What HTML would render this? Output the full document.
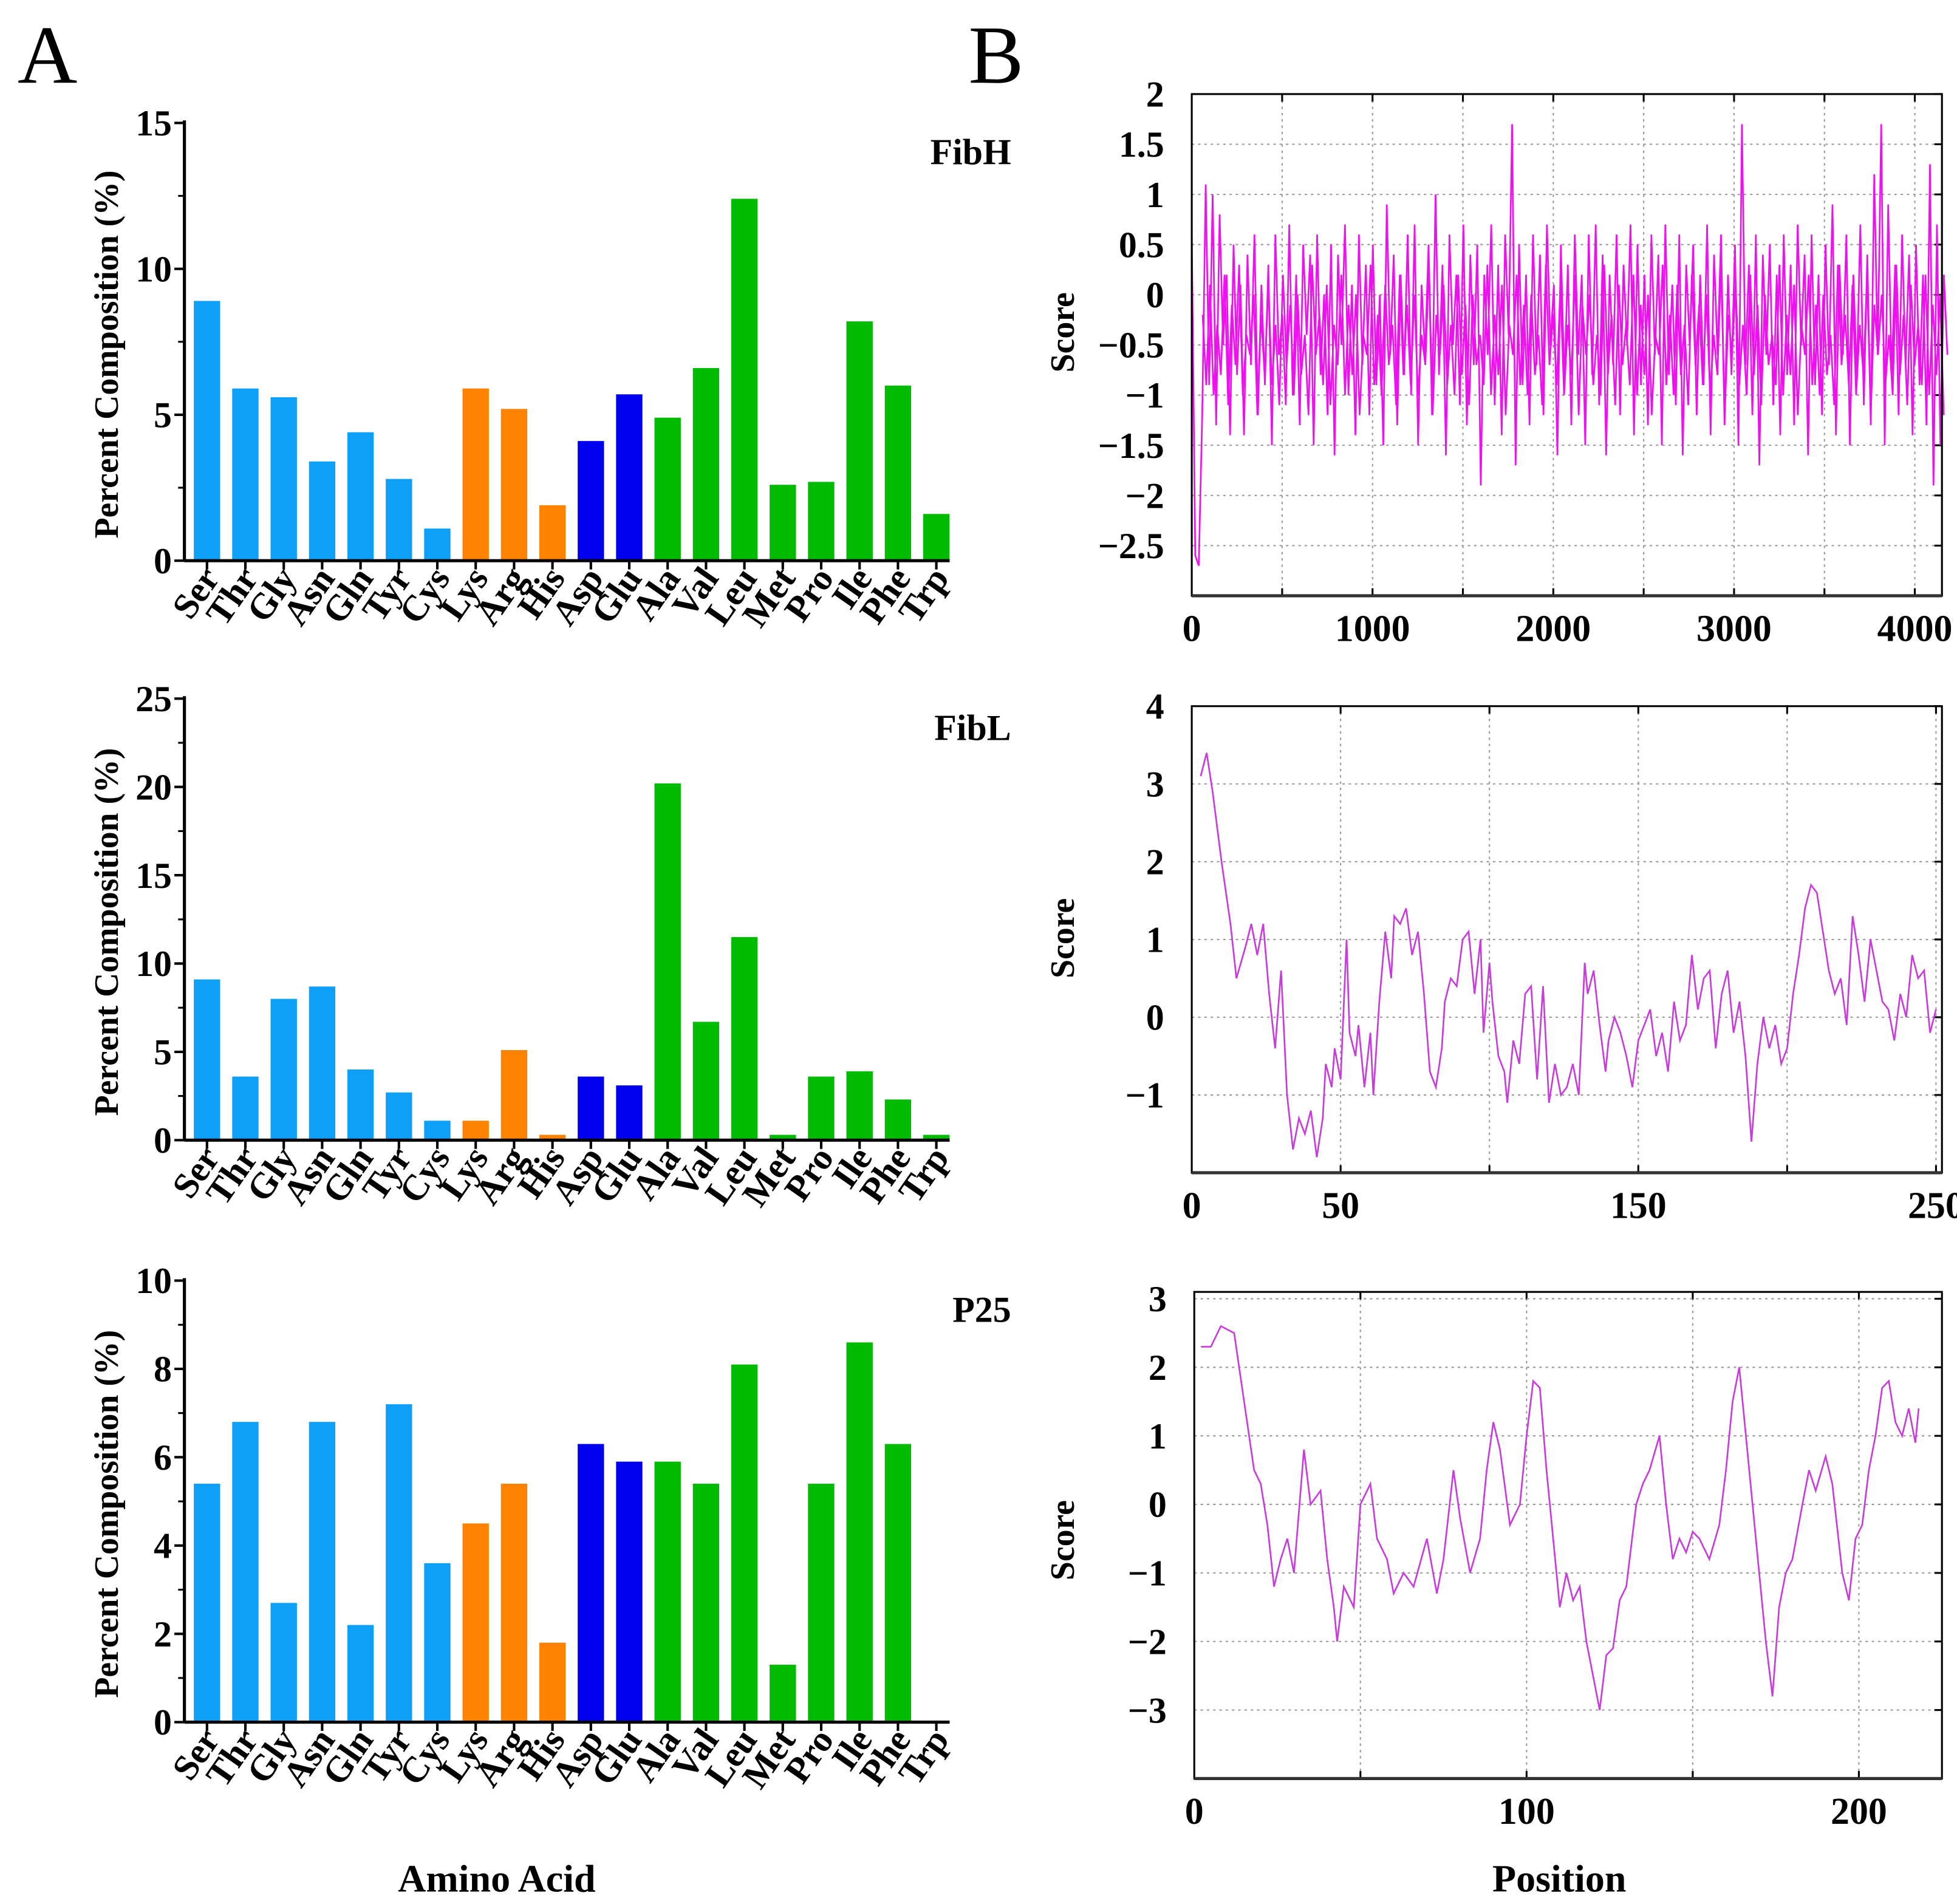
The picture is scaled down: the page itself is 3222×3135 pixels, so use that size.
<!DOCTYPE html>
<html><head><meta charset="utf-8">
<style>
html,body{margin:0;padding:0;background:#fff;}
svg{display:block;font-family:"Liberation Serif",serif;}
</style></head>
<body>
<svg id="fig" width="3222" height="3135" viewBox="0 0 1560 1518" preserveAspectRatio="none" xmlns="http://www.w3.org/2000/svg">
<rect width="1560" height="1518" fill="#fff"/>
<text x="14" y="66" font-size="66">A</text>
<text x="772" y="66" font-size="66">B</text>
<text x="396" y="1508" font-size="31" font-weight="bold" text-anchor="middle">Amino Acid</text>
<text x="1243" y="1508" font-size="31" font-weight="bold" text-anchor="middle">Position</text>
<g id="content"></g>
</svg>
<script>
const categories=["Ser","Thr","Gly","Asn","Gln","Tyr","Cys","Lys","Arg","His","Asp","Glu","Ala","Val","Leu","Met","Pro","Ile","Phe","Trp"];
const groupColors=["#0ea0f8","#0ea0f8","#0ea0f8","#0ea0f8","#0ea0f8","#0ea0f8","#0ea0f8","#ff8200","#ff8200","#ff8200","#0000ee","#0000ee","#00bb00","#00bb00","#00bb00","#00bb00","#00bb00","#00bb00","#00bb00","#00bb00"];
const fibHComp=[8.9,5.9,5.6,3.4,4.4,2.8,1.1,5.9,5.2,1.9,4.1,5.7,4.9,6.6,12.4,2.6,2.7,8.2,6.0,1.6];
const fibLComp=[9.1,3.6,8.0,8.7,4.0,2.7,1.1,1.1,5.1,0.3,3.6,3.1,20.2,6.7,11.5,0.3,3.6,3.9,2.3,0.3];
const p25Comp=[5.4,6.8,2.7,6.8,2.2,7.2,3.6,4.5,5.4,1.8,6.3,5.9,5.9,5.4,8.1,1.3,5.4,8.6,6.3,0];
const fibHTicks=[0,5,10,15];
const fibLTicks=[0,5,10,15,20,25];
const p25Ticks=[0,2,4,6,8,10];

const fibHScore=[0.6,-2.6,-2.7,-1.2,1.1,-0.9,1.0,-1.3,0.8,-0.5,0.2,-1.4,0.5,-0.8,0.1,-1.4,0.4,-0.7,0.6,-1.2,0.1,-0.9,0.3,-1.5,0.6,-0.6,-0.2,-1.1,0.7,-1.0,0.2,-1.3,0.5,-0.4,0.4,-1.5,0.6,-0.8,0.0,-1.2,0.5,-1.6,0.4,-0.5,0.7,-1.0,0.1,-1.4,0.6,-0.7,0.3,-1.2,0.5,-0.9,0.0,-1.5,0.9,-0.6,0.4,-1.3,0.2,-0.8,0.6,-1.0,0.7,-1.5,0.1,-0.6,0.5,-1.2,1.0,-0.8,0.3,-1.6,0.6,-0.5,0.2,-1.1,0.7,-1.3,0.4,-0.7,0.5,-1.9,0.2,-0.6,0.7,-1.1,0.3,-1.4,0.6,-0.4,1.7,-1.7,0.5,-0.9,0.2,-1.3,0.6,-0.7,0.4,-1.2,0.7,-0.5,0.1,-1.6,0.5,-0.9,0.3,-1.3,0.6,-0.6,0.2,-1.5,0.6,-0.8,0.7,-1.1,0.4,-1.6,0.2,-0.7,0.6,-1.2,0.3,-0.5,0.7,-1.4,0.5,-0.9,0.2,-1.3,0.6,-0.6,0.4,-1.5,0.7,-0.8,0.1,-1.1,0.6,-1.6,0.3,-0.5,0.5,-1.2,0.2,-0.9,0.7,-1.4,0.4,-0.6,0.6,-1.3,0.2,-0.8,0.5,-1.5,1.7,-0.7,0.3,-1.2,0.6,-1.7,0.4,-0.6,0.5,-1.1,0.2,-1.4,0.6,-0.8,0.3,-1.3,0.7,-0.5,0.4,-1.6,0.6,-0.9,0.2,-1.2,0.5,-0.7,0.9,-1.4,0.3,-0.6,0.6,-1.5,0.2,-0.8,0.7,-1.1,0.4,-1.3,1.2,-0.6,1.7,-1.5,0.9,-0.8,0.3,-1.2,0.6,-0.7,0.4,-1.4,0.5,-0.9,0.2,-1.3,1.3,-1.9,0.7,-1.5,0.2,-0.6];
const fibHScoreB=[-0.2,-0.9,0.1,-1.0,-0.3,-0.8,0.2,-1.1,-0.1,-0.7,0.3,-1.0,-0.4,-0.6,0.0,-1.2,-0.2,-0.8,0.1,-0.9,-0.3,-1.1,0.2,-0.7,-0.1,-1.0,0.0,-0.8,-0.4,-1.2,0.3,-0.6,-0.2,-0.9,0.1,-1.1,-0.3,-0.7,0.2,-1.0,-0.1,-0.8,0.0,-1.2,-0.4,-0.6,0.3,-0.9,-0.2,-1.0,0.1,-0.7,-0.3,-1.1,0.2,-0.8,-0.1,-0.9,0.0,-1.0,-0.4,-0.7,0.3,-1.2,-0.2,-0.6,0.1,-0.9,-0.3,-1.0,0.2,-0.8,-0.1,-1.1,0.0,-0.7,-0.4,-0.9,0.3,-1.0,-0.2,-0.8,0.1,-1.2,-0.3,-0.6,0.2,-0.9,-0.1,-1.0,0.0,-0.8,-0.4,-1.1,0.3,-0.7,-0.2,-0.9,0.1,-1.0,-0.3,-0.8,0.2,-1.2,-0.1,-0.6,0.0,-0.9,-0.4,-1.0,0.3,-0.8,-0.2,-1.1,0.1,-0.7,-0.3,-0.9,0.2,-1.0,-0.1,-0.8,0.0,-1.2,-0.4,-0.6,0.3,-0.9,-0.2,-1.0,0.1,-0.8,-0.3,-1.1,0.2,-0.7,-0.1,-0.9,0.0,-1.0,-0.4,-0.8,0.3,-1.2,-0.2,-0.6,0.1,-0.9,-0.3,-1.0,0.2,-0.8,-0.1,-1.1,0.0,-0.7,-0.4,-0.9,0.3,-1.0,-0.2,-0.8,0.1,-1.2,-0.3,-0.6,0.2,-0.9,-0.1,-1.0,0.0,-0.8,-0.4,-1.1,0.3,-0.7,-0.2,-0.9,0.1,-1.0,-0.3,-0.8,0.2,-1.2,-0.1,-0.6,0.0,-0.9,-0.4,-1.0,0.3,-0.8,-0.2,-1.1,0.1,-0.7,-0.3,-0.9,0.2,-1.0,-0.1,-0.8,0.0,-1.2];

const fibLPos=[3,5,7,10,13,15,18,20,22,24,26,28,30,32,34,36,38,40,42,44,45,47,48,50,52,53,55,56,58,60,61,63,65,67,68,70,72,74,76,78,80,82,84,85,87,89,91,93,95,97,98,100,101,103,105,106,108,110,112,114,116,118,120,122,124,126,128,130,132,133,135,137,139,140,142,144,146,148,150,152,154,156,158,160,162,164,166,168,170,172,174,176,178,180,182,184,186,188,190,192,194,196,198,200,202,204,206,208,210,212,214,216,218,220,222,224,226,228,230,232,234,236,238,240,242,244,246,248,250];
const fibLScore=[3.1,3.4,2.9,2.0,1.2,0.5,0.9,1.2,0.8,1.2,0.3,-0.4,0.6,-1.0,-1.7,-1.3,-1.5,-1.2,-1.8,-1.3,-0.6,-0.9,-0.4,-0.8,1.0,-0.2,-0.5,-0.1,-0.9,-0.2,-1.0,0.2,1.1,0.5,1.3,1.2,1.4,0.8,1.1,0.3,-0.7,-0.9,-0.4,0.2,0.5,0.4,1.0,1.1,0.3,1.0,-0.2,0.7,0.2,-0.5,-0.7,-1.1,-0.3,-0.6,0.3,0.4,-0.8,0.4,-1.1,-0.6,-1.0,-0.9,-0.6,-1.0,0.7,0.3,0.6,-0.1,-0.7,-0.3,0.0,-0.2,-0.5,-0.9,-0.3,-0.1,0.1,-0.5,-0.2,-0.7,0.2,-0.3,-0.1,0.8,0.1,0.5,0.6,-0.4,0.3,0.6,-0.2,0.2,-0.5,-1.6,-0.6,0.0,-0.4,-0.1,-0.6,-0.4,0.3,0.8,1.4,1.7,1.6,1.1,0.6,0.3,0.5,-0.1,1.3,0.8,0.2,1.0,0.6,0.2,0.1,-0.3,0.3,0.0,0.8,0.5,0.6,-0.2,0.1];

const p25Pos=[2,5,8,12,15,18,20,22,24,26,28,30,33,35,38,40,42,43,45,48,50,53,55,58,60,63,66,70,73,75,78,80,83,86,88,90,92,95,98,100,102,104,106,108,110,112,114,116,118,120,122,124,126,128,130,133,135,137,140,142,144,146,148,150,152,155,158,160,162,164,166,168,170,172,174,176,178,180,183,185,187,190,192,195,197,199,201,203,205,207,209,211,213,215,217,218];
const p25Score=[2.3,2.3,2.6,2.5,1.5,0.5,0.3,-0.3,-1.2,-0.8,-0.5,-1.0,0.8,0.0,0.2,-0.8,-1.5,-2.0,-1.2,-1.5,0.0,0.3,-0.5,-0.8,-1.3,-1.0,-1.2,-0.5,-1.3,-0.8,0.5,-0.2,-1.0,-0.5,0.5,1.2,0.8,-0.3,0.0,1.0,1.8,1.7,0.5,-0.5,-1.5,-1.0,-1.4,-1.2,-2.0,-2.5,-3.0,-2.2,-2.1,-1.4,-1.2,0.0,0.3,0.5,1.0,0.0,-0.8,-0.5,-0.7,-0.4,-0.5,-0.8,-0.3,0.5,1.5,2.0,1.0,0.0,-1.0,-2.0,-2.8,-1.5,-1.0,-0.8,0.0,0.5,0.2,0.7,0.3,-1.0,-1.4,-0.5,-0.3,0.5,1.0,1.7,1.8,1.2,1.0,1.4,0.9,1.4];
const fibHYTicks=["2","1.5","1","0.5","0","\u22120.5","\u22121","\u22121.5","\u22122","\u22122.5"];
const fibHYVals=[2,1.5,1,0.5,0,-0.5,-1,-1.5,-2,-2.5];
const fibHXTicks=[0,1000,2000,3000,4000];
const fibLYVals=[4,3,2,1,0,-1];
const fibLXTicks=[0,50,150,250];
const p25YVals=[3,2,1,0,-1,-2,-3];
const p25XTicks=[0,100,200];

const NS="http://www.w3.org/2000/svg";
const root=document.getElementById('content');
function mk(tag,attrs,parent,txt){const e=document.createElementNS(NS,tag);for(const k in attrs)e.setAttribute(k,attrs[k]);if(txt!==undefined)e.textContent=txt;(parent||root).appendChild(e);return e;}
function fmt(v){return v<0?"\u2212"+Math.abs(v):String(v);}

function barChart(name,vals,ticks,yTop,yBot,ymax,title){
  const g=mk('g',{});
  
  
  const x0=147,xEnd=757,first=165,step=30.6,bw=21;
  const ys=v=>yBot-(v/ymax)*(yBot-yTop);
  vals.forEach((v,i)=>{
    const cx=first+i*step;
    const r=mk('rect',{x:cx-bw/2,y:ys(v),width:bw,height:yBot-ys(v),fill:groupColors[i]},g);
    
    
    mk('line',{x1:cx,x2:cx,y1:yBot,y2:yBot+7,stroke:'#000','stroke-width':2},g);
    const t=mk('text',{x:cx+11,y:yBot+14,'font-size':29,'font-weight':'bold','text-anchor':'end',transform:`rotate(-55 ${cx+11} ${yBot+14})`},g,categories[i]);
    
    
  });
  mk('line',{x1:x0,x2:x0,y1:yTop-2,y2:yBot,stroke:'#000','stroke-width':2.5},g);
  mk('line',{x1:x0,x2:xEnd,y1:yBot,y2:yBot,stroke:'#000','stroke-width':2.5},g);
  ticks.forEach((t,k)=>{
    const y=ys(t);
    mk('line',{x1:x0-8,x2:x0,y1:y,y2:y,stroke:'#000','stroke-width':2},g);
    if(k<ticks.length-1){const ym=ys((t+ticks[k+1])/2);mk('line',{x1:x0-5,x2:x0,y1:ym,y2:ym,stroke:'#000','stroke-width':1.5},g);}
    const l=mk('text',{x:x0-10,y:y+10,'font-size':29,'font-weight':'bold','text-anchor':'end'},g,String(t));
    
    
  });
  const cy=(yTop+yBot)/2+10;
  const yt=mk('text',{x:94,y:cy,'font-size':27,'font-weight':'bold','text-anchor':'middle',transform:`rotate(-90 94 ${cy})`},g,'Percent Composition (%)');
  
  
  const tt=mk('text',{x:806,y:yTop+33,'font-size':29,'font-weight':'bold','text-anchor':'end'},g,title);
  
  
}
barChart('fibh',fibHComp,fibHTicks,98,447,15,'FibH');
barChart('fibl',fibLComp,fibLTicks,557,909,25,'FibL');
barChart('p25',p25Comp,p25Ticks,1021,1373,10,'P25');

function lineChart(name,pos,vals,cfg){
  const g=mk('g',{});
  
  
  const {L,R,T,B,xmax,ymin,ymax,gridX,yVals,yLabels,xTicks,color,sw,scoreY}=cfg;
  const xs=v=>L+(v/xmax)*(R-L);
  const ys=v=>B-(v-ymin)/(ymax-ymin)*(B-T);
  gridX.forEach(v=>{const x=xs(v);mk('line',{x1:x,x2:x,y1:T,y2:B,stroke:'#999','stroke-width':1,'stroke-dasharray':'2,3'},g);mk('line',{x1:x,x2:x,y1:B,y2:B-6,stroke:'#000','stroke-width':1.5},g);mk('line',{x1:x,x2:x,y1:T,y2:T+6,stroke:'#000','stroke-width':1.5},g);});
  yVals.forEach(v=>{const y=ys(v);mk('line',{x1:L,x2:R,y1:y,y2:y,stroke:'#999','stroke-width':1,'stroke-dasharray':'2,3'},g);mk('line',{x1:R-6,x2:R,y1:y,y2:y,stroke:'#000','stroke-width':1.5},g);
    const l=mk('text',{x:L-22,y:y+10,'font-size':29,'font-weight':'bold','text-anchor':'end'},g,yLabels?yLabels[yVals.indexOf(v)]:fmt(v));
    
    });
  (Array.isArray(vals[0])?vals:[vals]).forEach((series,si)=>{
    const ps=Array.isArray(pos[0])?pos[si]:pos;
    let d='';
    series.forEach((v,i)=>{d+=(i?'L':'M')+xs(ps[i]).toFixed(2)+' '+ys(v).toFixed(2);});
    const p=mk('path',{d:d,fill:'none',stroke:color,'stroke-width':sw},g);
    
    
  });
  mk('rect',{x:L,y:T,width:R-L,height:B-T,fill:'none',stroke:'#000','stroke-width':1.5},g);
  mk('line',{x1:L,x2:R,y1:B,y2:B,stroke:'#333','stroke-width':2.5},g);
  xTicks.forEach(v=>{const l=mk('text',{x:xs(v),y:B+36,'font-size':30,'font-weight':'bold','text-anchor':'middle'},g,String(v));
    
    });
  const st=mk('text',{x:856,y:scoreY,'font-size':27,'font-weight':'bold','text-anchor':'middle',transform:`rotate(-90 856 ${scoreY})`},g,'Score');
  
  
}
const fibHPos=fibHScore.map((v,i)=>i*4180/(fibHScore.length-1));
const fibHPosB=fibHScoreB.map((v,i)=>60+i*4100/(fibHScoreB.length-1));
lineChart('fibh',[fibHPos,fibHPosB],[fibHScore,fibHScoreB],{L:950,R:1548,T:75,B:475,xmax:4150,ymin:-3,ymax:2,gridX:[500,1000,1500,2000,2500,3000,3500,4000],yVals:fibHYVals,yLabels:fibHYTicks,xTicks:fibHXTicks,color:'#ee10ee',sw:1.3,scoreY:265});
lineChart('fibl',fibLPos,fibLScore,{L:950,R:1548,T:563,B:935,xmax:252,ymin:-2,ymax:4,gridX:[50,100,150,200,250],yVals:fibLYVals,xTicks:fibLXTicks,color:'#c83cdc',sw:1.3,scoreY:748});
lineChart('p25',p25Pos,p25Score,{L:952,R:1548,T:1030,B:1418,xmax:225,ymin:-4,ymax:3.1,gridX:[50,100,150,200],yVals:p25YVals,xTicks:p25XTicks,color:'#c83cdc',sw:1.3,scoreY:1228});
</script>
</body></html>
